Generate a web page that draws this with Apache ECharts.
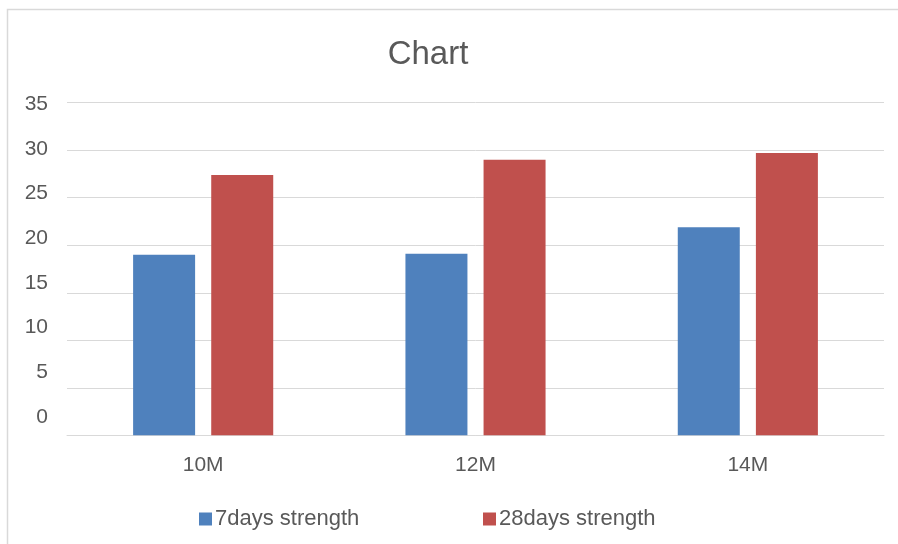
<!DOCTYPE html>
<html>
<head>
<meta charset="utf-8">
<script src="https://cdn.jsdelivr.net/npm/echarts@6/dist/echarts.min.js"></script>
<style>
  html, body { margin: 0; padding: 0; background: #ffffff; }
  #chart { width: 898px; height: 544px; }
</style>
</head>
<body>
<div id="chart"></div>
<script>
// Mix sizes and strengths (MPa) at 7 and 28 days
const categories = ['10M', '12M', '14M'];
const strength7 = [19.0, 19.1, 21.9];
const strength28 = [27.4, 29.0, 29.7];
const seriesNames = ['7days strength', '28days strength'];
const yMin = 0, yMax = 35, yStep = 5;

const textColor = '#595959';
const gridColor = '#d9d9d9';
const fontFamily = 'Liberation Sans, Arial, sans-serif';

const chart = echarts.init(document.getElementById('chart'), null, { renderer: 'canvas' });

chart.setOption({
  animation: false,
  backgroundColor: '#ffffff',
  textStyle: { fontFamily: fontFamily },
  title: {
    text: 'Chart',
    left: 423,
    textAlign: 'center',
    top: 33,
    textStyle: { fontFamily: fontFamily, fontSize: 33, fontWeight: 'normal', color: textColor }
  },
  legend: [
    {
      data: [seriesNames[0]],
      left: 194, top: 503,
      itemWidth: 13, itemHeight: 13, itemGap: 6,
      icon: 'rect',
      textStyle: { fontFamily: fontFamily, fontSize: 22, color: textColor, padding: [0, 0, 0, -2] }
    },
    {
      data: [seriesNames[1]],
      left: 478, top: 503,
      itemWidth: 13, itemHeight: 13, itemGap: 6,
      icon: 'rect',
      textStyle: { fontFamily: fontFamily, fontSize: 22, color: textColor, padding: [0, 0, 0, -2] }
    }
  ],
  graphic: [{
    type: 'rect',
    shape: { x: 7.5, y: 9.5, width: 900, height: 540 },
    style: { fill: 'none', stroke: gridColor, lineWidth: 1.5 },
    silent: true
  }],
  grid: [
    // plotting area
    { left: 67, right: 14, top: 102.7, bottom: 108.7 },
    // value labels column
    { left: 0, width: 48, top: 104, bottom: 127 }
  ],
  xAxis: [
    {
      type: 'category',
      gridIndex: 0,
      data: categories,
      axisLine: { lineStyle: { color: gridColor, width: 1 } },
      axisTick: { show: false },
      axisLabel: { fontFamily: fontFamily, fontSize: 21, color: textColor, margin: 19 }
    },
    { type: 'value', gridIndex: 1, show: false, min: 0, max: 1 }
  ],
  yAxis: [
    {
      type: 'value',
      gridIndex: 0,
      min: yMin, max: yMax, interval: yStep,
      axisLine: { show: false },
      axisTick: { show: false },
      axisLabel: { show: false },
      splitLine: { lineStyle: { color: gridColor, width: 1 } }
    },
    {
      type: 'value',
      gridIndex: 1,
      position: 'right',
      min: yMin, max: yMax, interval: yStep,
      axisLine: { show: false },
      axisTick: { show: false },
      splitLine: { show: false },
      axisLabel: {
        inside: true,
        align: 'right',
        margin: 0,
        fontFamily: fontFamily, fontSize: 21, color: textColor
      }
    }
  ],
  series: [
    {
      name: seriesNames[0],
      type: 'bar',
      xAxisIndex: 0, yAxisIndex: 0,
      data: strength7,
      barWidth: 62,
      barGap: '26%',
      itemStyle: { color: '#4f81bd' }
    },
    {
      name: seriesNames[1],
      type: 'bar',
      xAxisIndex: 0, yAxisIndex: 0,
      data: strength28,
      barWidth: 62,
      barGap: '26%',
      itemStyle: { color: '#c0504d' }
    }
  ]
});
</script>
</body>
</html>
